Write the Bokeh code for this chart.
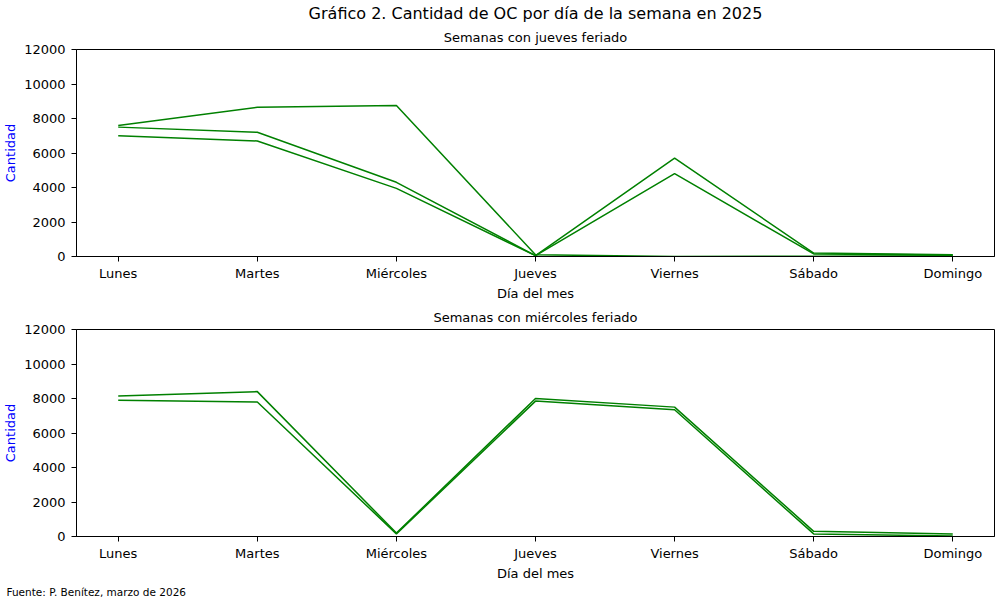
from bokeh.plotting import figure
from bokeh.models import FixedTicker, Title, Range1d
from bokeh.layouts import column
from bokeh.embed import file_html
from bokeh.resources import INLINE

dias = ["Lunes", "Martes", "Miércoles", "Jueves", "Viernes", "Sábado", "Domingo"]
x_idx = [0, 1, 2, 3, 4, 5, 6]

# Semanas con jueves feriado
jueves_sem1 = [7600, 8650, 8750, 100, 0, 20, 50]
jueves_sem2 = [7500, 7200, 4300, 50, 5700, 200, 100]
jueves_sem3 = [7000, 6700, 3950, 50, 4800, 150, 80]

# Semanas con miércoles feriado
miercoles_sem1 = [8150, 8400, 200, 8000, 7500, 300, 150]
miercoles_sem2 = [7900, 7800, 150, 7850, 7350, 150, 30]

y_ticks = [0, 2000, 4000, 6000, 8000, 10000, 12000]

FONT = "DejaVu Sans"


def style_title(t, size, standoff):
    t.align = "center"
    t.text_font = FONT
    t.text_font_size = size
    t.text_font_style = "normal"
    t.text_color = "black"
    t.standoff = standoff


def make_fig(series, top, bottom):
    p = figure(frame_width=918, frame_height=207, output_backend="svg", toolbar_location=None,
               x_range=Range1d(-0.3, 6.3), y_range=Range1d(0, 12000),
               min_border_left=70, min_border_right=4,
               min_border_top=top, min_border_bottom=bottom)
    for s in series:
        p.line(x_idx, s, line_color="green", line_width=1.5)
    p.xgrid.visible = False
    p.ygrid.visible = False
    p.outline_line_color = "black"
    p.outline_line_alpha = 1
    p.outline_line_width = 1
    p.background_fill_color = "white"
    p.border_fill_color = "white"
    p.xaxis.ticker = FixedTicker(ticks=x_idx)
    p.xaxis.major_label_overrides = {i: d for i, d in zip(x_idx, dias)}
    p.yaxis.ticker = FixedTicker(ticks=y_ticks)
    for ax in (p.xaxis, p.yaxis):
        ax.axis_line_color = "black"
        ax.major_tick_line_color = "black"
        ax.minor_tick_line_color = None
        ax.major_tick_in = 0
        ax.major_tick_out = 5
        ax.major_label_text_font = FONT
        ax.major_label_text_font_size = "13px"
        ax.major_label_text_color = "black"
        ax.axis_label_text_font = FONT
        ax.axis_label_text_font_size = "13px"
        ax.axis_label_text_font_style = "normal"
    p.xaxis.axis_label = "Día del mes"
    p.xaxis.axis_label_text_color = "black"
    p.xaxis.major_label_standoff = 4
    p.xaxis.axis_label_standoff = 2
    p.yaxis.axis_label = "Cantidad"
    p.yaxis.axis_label_text_color = "blue"
    p.yaxis.major_label_standoff = 6
    p.yaxis.axis_label_standoff = 3
    return p


p1 = make_fig([jueves_sem1, jueves_sem2, jueves_sem3], 47, 31)
p1.title.text = "Gráfico 2. Cantidad de OC por día de la semana en 2025"
style_title(p1.title, "16px", 2)
sub1 = Title(text="Semanas con jueves feriado")
style_title(sub1, "13px", 9)
p1.add_layout(sub1, "above")

p2 = make_fig([miercoles_sem1, miercoles_sem2], 26, 45)
p2.title.text = "Semanas con miércoles feriado"
style_title(p2.title, "13px", 9)
foot = Title(text="Fuente: P. Benítez, marzo de 2026")
style_title(foot, "10.5px", 0)
foot.align = "left"
foot.offset = -70
p2.add_layout(foot, "below")

layout = column(p1, p2, spacing=0)
open("out.html", "w").write(file_html(layout, INLINE))
